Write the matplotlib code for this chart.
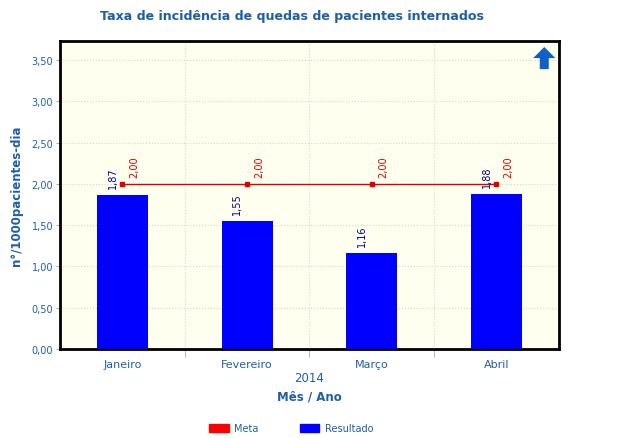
import matplotlib
matplotlib.use("Agg")
import matplotlib.pyplot as plt
from matplotlib.patches import Patch

# Data
meses = ["Janeiro", "Fevereiro", "Março", "Abril"]
resultado = [1.87, 1.55, 1.16, 1.88]
meta = [2.00, 2.00, 2.00, 2.00]
yticks = [0.0, 0.5, 1.0, 1.5, 2.0, 2.5, 3.0, 3.5]

azul_txt = "#1f5fa8"

fig = plt.figure(figsize=(6.4, 4.39), dpi=100)
ax = fig.add_axes([0.094, 0.203, 0.779, 0.701])
ax.set_facecolor("#fffff0")

x = list(range(len(meses)))
ax.bar(x, resultado, width=0.41, color="#0000ff", zorder=3)
ax.plot(x, meta, color="#dd0000", lw=1, marker="s", ms=3.5, zorder=4)

# value labels
for i in x:
    ax.annotate(f"{resultado[i]:.2f}".replace(".", ","), (i, resultado[i]),
                xytext=(-7, 5), textcoords="offset points", rotation=90,
                ha="center", va="bottom", fontsize=7, color="#000099", zorder=5)
    ax.annotate(f"{meta[i]:.2f}".replace(".", ","), (i, meta[i]),
                xytext=(8.5, 5), textcoords="offset points", rotation=90,
                ha="center", va="bottom", fontsize=7, color="#dd0000", zorder=5)

ax.set_xlim(-0.5, 3.5)
ax.set_ylim(0, 3.73)
ax.set_yticks(yticks)
ax.set_yticklabels([f"{v:.2f}".replace(".", ",") for v in yticks],
                   fontsize=7, color=azul_txt)
ax.set_xticks(x)
ax.set_xticklabels(meses, fontsize=8, color=azul_txt)
ax.set_xticks([0.5, 1.5, 2.5], minor=True)
ax.tick_params(axis="x", which="major", length=0, pad=7)
ax.tick_params(axis="x", which="minor", length=6, color="#aaaaaa")
ax.tick_params(axis="y", length=3, color="#aaaaaa", pad=2)

# grid
ax.grid(axis="y", which="major", ls=":", color="#d8d8c8", lw=0.8, zorder=0)
ax.grid(axis="x", which="minor", ls=":", color="#d8d8c8", lw=0.8, zorder=0)

for s in ax.spines.values():
    s.set_linewidth(2)
    s.set_color("black")

ax.set_ylabel("n°/1000pacientes-dia", fontsize=8.5, fontweight="bold",
              color=azul_txt, labelpad=6)

fig.text(0.456, 0.962, "Taxa de incidência de quedas de pacientes internados",
         ha="center", va="center", fontsize=9.1, fontweight="bold", color=azul_txt)
fig.text(0.483, 0.137, "2014", ha="center", va="center", fontsize=8.5, color=azul_txt)
fig.text(0.483, 0.096, "Mês / Ano", ha="center", va="center", fontsize=8.5,
         fontweight="bold", color=azul_txt)

# arrow icon
ax.annotate("", xy=(0.971, 0.99), xytext=(0.971, 0.9), xycoords="axes fraction",
            arrowprops=dict(arrowstyle="simple,head_width=1.6,head_length=0.8,tail_width=0.65",
                            color="#1060c8", lw=0))

handles = [Patch(color="#ff0000", label="Meta"), Patch(color="#0000ff", label="Resultado")]
fig.legend(handles=handles, loc="center", bbox_to_anchor=(0.455, 0.023), ncol=2,
           frameon=False, fontsize=7, handlelength=2.0, handleheight=0.9,
           handletextpad=0.55, columnspacing=4.3, labelcolor=azul_txt)

fig.savefig("out.png", dpi=100)
